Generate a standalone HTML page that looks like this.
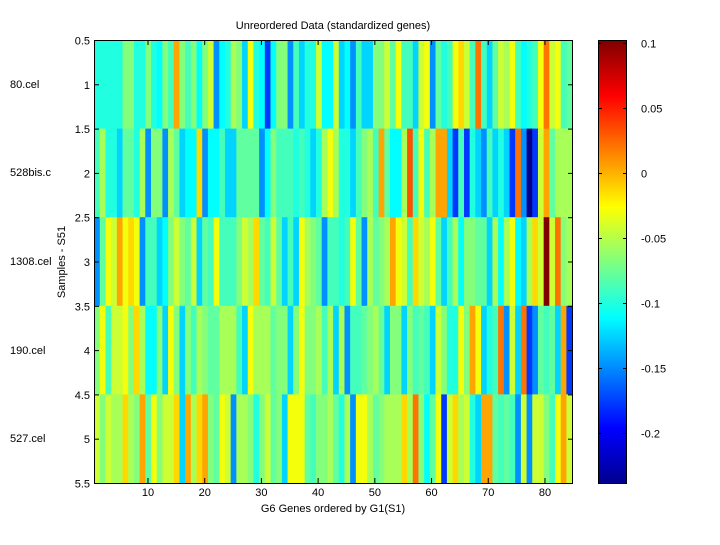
<!DOCTYPE html>
<html><head><meta charset="utf-8"><style>
body{margin:0;background:#fff;width:720px;height:540px;overflow:hidden}
svg text{font-family:"Liberation Sans",sans-serif;font-size:11px;fill:#000}
</style></head><body>
<svg id="s" width="720" height="540" xmlns="http://www.w3.org/2000/svg">
<defs><linearGradient id="jet" x1="0" y1="1" x2="0" y2="0">
<stop offset="0" stop-color="#00008f"/><stop offset="0.125" stop-color="#0000ff"/>
<stop offset="0.375" stop-color="#00ffff"/><stop offset="0.625" stop-color="#ffff00"/>
<stop offset="0.875" stop-color="#ff0000"/><stop offset="1" stop-color="#800000"/>
</linearGradient></defs>
<g id="cells"></g>
<rect x="94.5" y="40.5" width="478" height="443" fill="none" stroke="#000"/>
<g id="ticks" stroke="#000"></g>
<text x="333" y="29" text-anchor="middle">Unreordered Data (standardized genes)</text>
<text x="333" y="512" text-anchor="middle">G6 Genes ordered by G1(S1)</text>
<text transform="translate(65,262) rotate(-90)" text-anchor="middle">Samples - S51</text>
<text x="10" y="88">80.cel</text>
<text x="10" y="176">528bis.c</text>
<text x="10" y="265">1308.cel</text>
<text x="10" y="354">190.cel</text>
<text x="10" y="442">527.cel</text>
<rect x="598.5" y="40.5" width="28" height="443" fill="url(#jet)" stroke="#000"/>
<g id="cb" stroke="#000"></g>
</svg>
<script>
var P={B:"#00008a",b:"#0038ff",a:"#0090ff",s:"#00d4ff",C:"#00ffff",t:"#20ffe0",m:"#44ffbc",g:"#60ffa0",G:"#84ff7c",l:"#a8ff58",y:"#ccff34",Y:"#f4ff0c",o:"#ffd800",O:"#ffa400",r:"#ff7400",R:"#ff5000",M:"#800000"};
var rows=[
"tttttGGttGtCGmOGmGCGyaCtlGsYtCbCGGamsttyCCysCamssGGygYmmsyYagtmYoymrmsgylYmCtmYryYmgg",
"mlttsggtlaGGalgsCCoaCCmssggggaCGmmmtmtstlYlttsmGlmOgCClRmYmlOOsbmbtsamstsbraBbyOglll",
"agYyOYoYammsCGyGgysgmYmmmGyloumygsmsYlGgammtmYgalgGlOYymoylYgsmlCGGggslClYCsloyMyrGl",
"GYmyyYGolCCGsYGsGmlGgglllmsYlllgGGsGYGGlmlslammgGlgsGGsGmgmsyGttYGOYstmraysrbagmgsObt",
"yGyllolGOgYGyyosOloOGgYyallGtGygGsYYYgmGGlgtlaYYlgGlllolrGCgYbyolytsOOgmgmayayyGmYOyt"];
var s=document.getElementById("cells"),h="";
var x0=94.1,cw=478/84,y0=40,rh=443/5;
rows.forEach(function(r,i){for(var j=0;j<84;j++){var c=r[j]||"g";c=P[c]||P.g;
h+='<rect x="'+(x0+j*cw).toFixed(2)+'" y="'+(y0+i*rh).toFixed(2)+'" width="'+(cw+0.4).toFixed(2)+'" height="'+(rh+0.4).toFixed(2)+'" fill="'+c+'"/>';}});
s.innerHTML=h;
var t="",svg=document.getElementById("s");
var yl=["0.5","1","1.5","2","2.5","3","3.5","4","4.5","5","5.5"];
for(var k=0;k<11;k++){var y=40.5+k*44.3;t+='<line x1="94.5" y1="'+y+'" x2="99" y2="'+y+'"/><line x1="568" y1="'+y+'" x2="572.5" y2="'+y+'"/>';
svg.insertAdjacentHTML("beforeend",'<text x="90" y="'+(y+4)+'" text-anchor="end">'+yl[k]+'</text>');}
for(var v=10;v<=80;v+=10){var x=96.96+(v-1)*5.671;t+='<line x1="'+x+'" y1="483" x2="'+x+'" y2="478"/><line x1="'+x+'" y1="40.5" x2="'+x+'" y2="45"/>';
svg.insertAdjacentHTML("beforeend",'<text x="'+x+'" y="496" text-anchor="middle">'+v+'</text>');}
document.getElementById("ticks").innerHTML=t;
var cb="",lab=["0.1","0.05","0","-0.05","-0.1","-0.15","-0.2"];
for(var k=0;k<7;k++){var y=43.5+k*65;cb+='<line x1="598.5" y1="'+y+'" x2="602" y2="'+y+'"/><line x1="623" y1="'+y+'" x2="626.5" y2="'+y+'"/>';
svg.insertAdjacentHTML("beforeend",'<text x="641" y="'+(y+4)+'">'+lab[k]+'</text>');}
document.getElementById("cb").innerHTML=cb;
</script>
</body></html>
